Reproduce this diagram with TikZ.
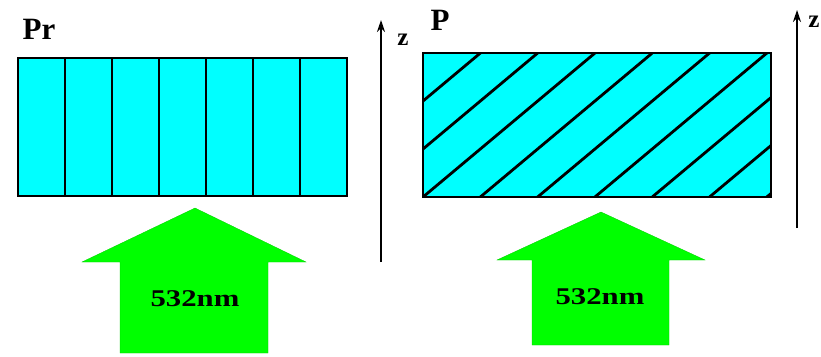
\documentclass[tikz,border=0pt]{standalone}
\usepackage{fontspec}
\setmainfont{Liberation Serif}[BoldFont={Liberation Serif Bold}]
\definecolor{slabcyan}{RGB}{0,255,255}
\definecolor{pumpgreen}{RGB}{0,255,0}
\usetikzlibrary{arrows.meta}

\begin{document}
\begin{tikzpicture}[x=1pt, y=-1pt,
      slab/.style={draw=black, line width=2.8pt, fill=slabcyan},
      layer/.style={draw=black, line width=2.8pt},
      pump/.style={fill=pumpgreen, draw=pumpgreen!80!black, line width=0.3pt},
      axis/.style={-{Stealth[length=12pt, width=8pt]}, line width=2.4pt},
      lbl/.style={font=\fontsize{31}{31}\selectfont\bfseries, inner sep=0pt},
      axlbl/.style={font=\fontsize{25}{25}\selectfont\bfseries, inner sep=0pt},
      wave/.style={font=\fontsize{24}{24}\selectfont\bfseries, inner sep=0pt, xscale=1.28}
    ]
    \useasboundingbox (0,0) rectangle (821,356);
    % left: vertical layers
    \draw[slab] (18,58) rectangle (347,196);
    \foreach \k in {1,...,6}
      \draw[layer] ({18+47*\k},58) -- ({18+47*\k},196);
    \node[lbl] (pr) at (39,29) {Pr};
    \fill[pump] (195,208) -- (306,262) -- (268,262) -- (268,353)
      -- (120,353) -- (120,262) -- (82,262) -- cycle;
    \node[wave] (wl) at (195,299) {532nm};
    \coordinate (zla) at (381,262);
    \coordinate (zlb) at (381,20);
    \draw[axis] (zla) -- (zlb);
    \node[axlbl] (zl) at (403,40) {z};
    % right: tilted layers
    \draw[slab] (423,53) rectangle (771,197);
    \begin{scope}
      \clip (423,53) rectangle (771,197);
      \foreach \k in {-3,...,6}
        \draw[layer] ({423+57.3*\k},197) -- ({423+57.3*\k+172},53);
    \end{scope}
    \draw[line width=2.8pt] (423,53) rectangle (771,197);
    \node[lbl] (p) at (440,20) {P};
    \fill[pump] (601,212) -- (705,260) -- (669,260) -- (669,345)
      -- (532,345) -- (532,260) -- (497,260) -- cycle;
    \node[wave] (wr) at (600,297) {532nm};
    \coordinate (zra) at (797,228);
    \coordinate (zrb) at (797,10);
    \draw[axis] (zra) -- (zrb);
    \node[axlbl] (zr) at (814,22) {z};
  \end{tikzpicture}
\end{document}
